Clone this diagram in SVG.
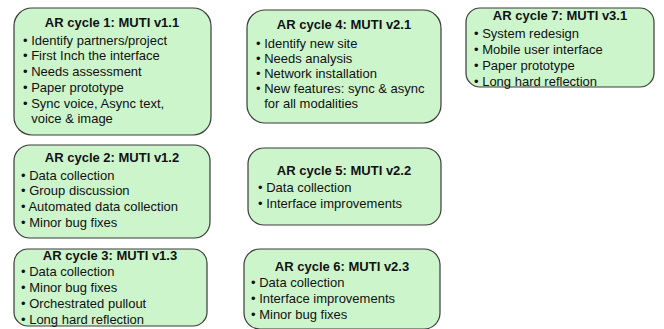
<svg xmlns="http://www.w3.org/2000/svg" width="664" height="329" viewBox="0 0 664 329">
<style>
.box{fill:#ccf5cc;stroke:#3a3a3a;stroke-width:1.2}
.t{font-family:"Liberation Sans",Arial,sans-serif;font-size:13px;font-weight:bold;fill:#111;text-anchor:middle}
.l{font-family:"Liberation Sans",Arial,sans-serif;font-size:13px;fill:#111}
</style>
<rect width="664" height="329" fill="#fff"/>
<g id="cycle1">
<rect class="box" x="14" y="8" width="197" height="127" rx="18"/>
<text class="t" x="112" y="27">AR cycle 1: MUTI v1.1</text>
<text class="l" x="23" y="45">• Identify partners/project</text>
<text class="l" x="23" y="60">• First Inch the interface</text>
<text class="l" x="23" y="76">• Needs assessment</text>
<text class="l" x="23" y="92">• Paper prototype</text>
<text class="l" x="23" y="108">• Sync voice, Async text,</text>
<text class="l" x="31.2" y="123">voice &amp; image</text>
</g>
<g id="cycle2">
<rect class="box" x="14" y="145" width="196" height="93" rx="16"/>
<text class="t" x="112" y="162">AR cycle 2: MUTI v1.2</text>
<text class="l" x="21" y="180">• Data collection</text>
<text class="l" x="21" y="195">• Group discussion</text>
<text class="l" x="21" y="211">• Automated data collection</text>
<text class="l" x="21" y="227">• Minor bug fixes</text>
</g>
<g id="cycle3">
<rect class="box" x="14" y="249" width="193" height="77" rx="14"/>
<text class="t" x="110" y="260">AR cycle 3: MUTI v1.3</text>
<text class="l" x="21" y="276">• Data collection</text>
<text class="l" x="21" y="292">• Minor bug fixes</text>
<text class="l" x="21" y="308">• Orchestrated pullout</text>
<text class="l" x="21" y="324">• Long hard reflection</text>
</g>
<g id="cycle4">
<rect class="box" x="247" y="10" width="194" height="113" rx="18"/>
<text class="t" x="344" y="29">AR cycle 4: MUTI v2.1</text>
<text class="l" x="256" y="48">• Identify new site</text>
<text class="l" x="256" y="63">• Needs analysis</text>
<text class="l" x="256" y="78">• Network installation</text>
<text class="l" x="256" y="93">• New features: sync &amp; async</text>
<text class="l" x="264.2" y="108">for all modalities</text>
</g>
<g id="cycle5">
<rect class="box" x="248" y="148" width="193" height="77" rx="16"/>
<text class="t" x="344" y="175">AR cycle 5: MUTI v2.2</text>
<text class="l" x="258" y="192">• Data collection</text>
<text class="l" x="258" y="208">• Interface improvements</text>
</g>
<g id="cycle6">
<rect class="box" x="244" y="249" width="196" height="80" rx="16"/>
<text class="t" x="342" y="271">AR cycle 6: MUTI v2.3</text>
<text class="l" x="251" y="287">• Data collection</text>
<text class="l" x="251" y="303">• Interface improvements</text>
<text class="l" x="251" y="319">• Minor bug fixes</text>
</g>
<g id="cycle7">
<rect class="box" x="466" y="8" width="188" height="79" rx="14"/>
<text class="t" x="560" y="20">AR cycle 7: MUTI v3.1</text>
<text class="l" x="474" y="38">• System redesign</text>
<text class="l" x="474" y="54">• Mobile user interface</text>
<text class="l" x="474" y="70">• Paper prototype</text>
<text class="l" x="474" y="86">• Long hard reflection</text>
</g>
<g id="connectors"/>
</svg>
